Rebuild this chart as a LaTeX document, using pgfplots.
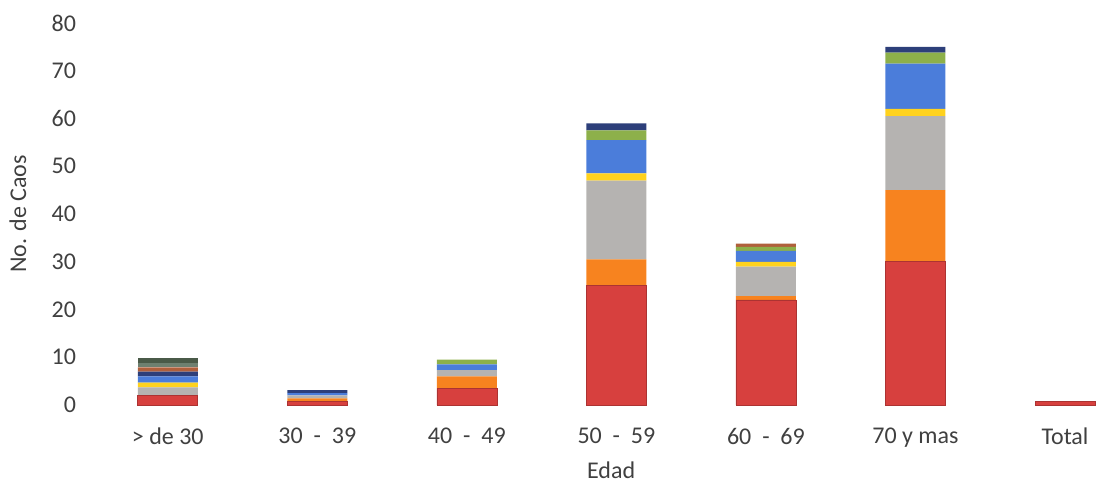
\documentclass[border=0pt]{standalone}
\usepackage{fontspec}
\setmainfont{Carlito}
\usepackage{pgfplots}
\usepackage{pgfplotstable}
\pgfplotsset{compat=1.18}

\definecolor{cRed}{HTML}{D7403E}
\definecolor{cOrange}{HTML}{F7831F}
\definecolor{cGray}{HTML}{B5B3B1}
\definecolor{cYellow}{HTML}{FFD21E}
\definecolor{cBlue}{HTML}{4B7DDA}
\definecolor{cGreen}{HTML}{8DB04A}
\definecolor{cNavy}{HTML}{2D3F7A}
\definecolor{cBrown}{HTML}{B0603C}
\definecolor{cDGray}{HTML}{6E8070}
\definecolor{cDGreen}{HTML}{4A5A48}
\definecolor{txt}{HTML}{404040}

% casos por grupo de edad, apilados por categoria
\pgfplotstableread{
x red orange gray yellow blue green navy brown dgray dgreen
0 2.0 0   1.7  1.0 1.3 0   1.0 0.9 0.8 1.1
1 0.8 0.6 0.6  0   0.5 0   0.6 0   0   0
2 3.5 2.5 1.3  0   1.2 1.0 0   0   0   0
3 25  5.5 16.5 1.5 7.0 2.0 1.5 0   0   0
4 22  0.8 6.2  1.0 2.3 0.8 0   0.7 0   0
5 30  15  15.5 1.5 9.5 2.3 1.2 0   0   0
6 0.7 0   0    0   0   0   0   0   0   0
}\datos

\begin{document}
\begin{tikzpicture}
\begin{axis}[
  scale only axis,
  width=502pt, height=191pt,
  xmin=-0.5, xmax=6.214,
  ymin=0, ymax=80,
  ytick={0,10,...,80},
  xtick={0,...,6},
  xticklabels={> de 30, 30~~-~~39, 40~~-~~49, 50~~-~~59, 60~~-~~69, 70 y mas, Total},
  axis line style={draw=none},
  major tick length=0pt,
  ybar stacked,
  bar width=30pt,
  font=\fontsize{12}{14}\selectfont,
  tick label style={text=txt},
  /pgf/number format/assume math mode=true,
  yticklabel style={xshift=-5pt},
  xticklabel style={yshift=-8pt},
  xlabel={Edad},
  ylabel={No. de Caos},
  every axis x label/.style={at={(rel axis cs:0.516,0)}, anchor=center, yshift=-32.5pt, text=txt},
  every axis y label/.style={at={(rel axis cs:-0.0747,0.5)}, anchor=center, rotate=90, text=txt},
  clip=true,
]
\addplot[fill=cRed, draw=cRed!80!black, line width=0.3pt] table[x=x, y=red] {\datos};
\addplot[fill=cOrange, draw=none] table[x=x, y=orange] {\datos};
\addplot[fill=cGray, draw=none] table[x=x, y=gray] {\datos};
\addplot[fill=cYellow, draw=none] table[x=x, y=yellow] {\datos};
\addplot[fill=cBlue, draw=none] table[x=x, y=blue] {\datos};
\addplot[fill=cGreen, draw=none] table[x=x, y=green] {\datos};
\addplot[fill=cNavy, draw=none] table[x=x, y=navy] {\datos};
\addplot[fill=cBrown, draw=none] table[x=x, y=brown] {\datos};
\addplot[fill=cDGray, draw=none] table[x=x, y=dgray] {\datos};
\addplot[fill=cDGreen, draw=none] table[x=x, y=dgreen] {\datos};
\end{axis}
\pgfresetboundingbox
\path (-46.5pt,-41.5pt) rectangle (502pt,202.5pt);
\end{tikzpicture}
\end{document}
